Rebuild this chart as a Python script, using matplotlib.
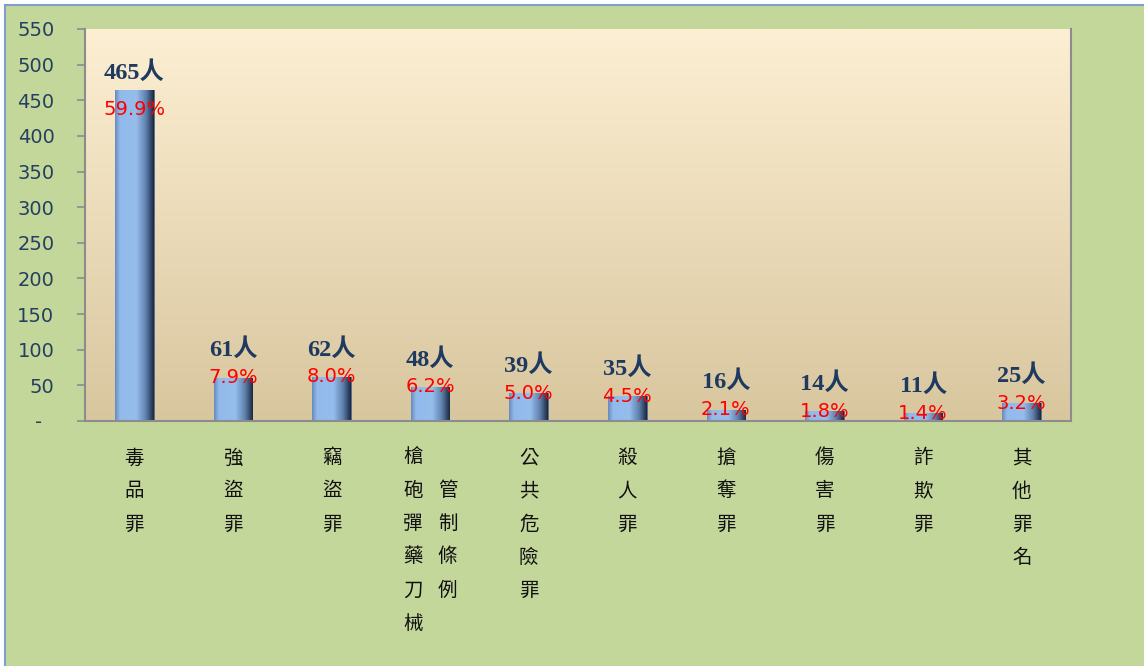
import matplotlib.pyplot as plt
import numpy as np
from matplotlib.patches import Rectangle

plt.rcParams['font.family'] = ['DejaVu Sans', 'Noto Sans CJK TC']

categories = ["毒品罪", "強盜罪", "竊盜罪", "槍砲彈藥刀械管制條例", "公共危險罪",
              "殺人罪", "搶奪罪", "傷害罪", "詐欺罪", "其他罪名"]
counts = [465, 61, 62, 48, 39, 35, 16, 14, 11, 25]
percents = ["59.9%", "7.9%", "8.0%", "6.2%", "5.0%", "4.5%", "2.1%", "1.8%", "1.4%", "3.2%"]
yticks = [0, 50, 100, 150, 200, 250, 300, 350, 400, 450, 500, 550]
ytick_labels = ["-  "] + [str(t) for t in yticks[1:]]

fig = plt.figure(figsize=(11.44, 6.66), dpi=100, facecolor="white")

# green chart area with a thin blue frame
fig.patches.append(Rectangle((5 / 1144, -0.01), 1.0, 1 - 5 / 666 + 0.01,
                             transform=fig.transFigure, facecolor="#C4D79B",
                             edgecolor="#7F9FCB", linewidth=1.5, zorder=-5))

ax = fig.add_axes([85 / 1144, 1 - 421 / 666, 986 / 1144, 392 / 666])
ax.set_zorder(2)

# plot area vertical gradient
top = np.array([253, 239, 211]) / 255
bottom = np.array([216, 198, 158]) / 255
t = np.linspace(0, 1, 256)[:, None]
grad = top * (1 - t[..., None]) + bottom * t[..., None]
ax.imshow(grad, extent=[0, 1, 0, 1], transform=ax.transAxes, aspect="auto",
          zorder=0, interpolation="bilinear")

x = np.arange(len(categories))
bars = ax.bar(x, counts, width=0.39, color="#8DB4E2", edgecolor="#4A6282",
              linewidth=0.6, zorder=2)

# bevel-like horizontal shading on each bar
stops = [0.0, 0.12, 0.55, 0.8, 1.0]
cols = np.array([[105, 140, 190], [145, 185, 235], [150, 190, 236],
                 [95, 128, 175], [28, 42, 66]]) / 255
s = np.linspace(0, 1, 64)
shade = np.stack([np.interp(s, stops, cols[:, k]) for k in range(3)], axis=-1)[None, :, :]
for b in bars:
    im = ax.imshow(shade, extent=[b.get_x(), b.get_x() + b.get_width(), 0, b.get_height()],
                   aspect="auto", zorder=2, interpolation="bilinear")
    im.set_clip_path(b)
ax.set_xlim(-0.5, len(categories) - 0.5)
ax.set_ylim(0, 550)

for i, (v, p) in enumerate(zip(counts, percents)):
    if v > 200:
        c_off, p_off = 12, -14
    else:
        c_off, p_off = 20, 0
    ax.annotate(f"{v}人", (i, v), xytext=(0, c_off), textcoords="offset points",
                ha="center", va="center", fontsize=17.5, fontweight="bold",
                color="#1F3A60", family=["Liberation Serif", "Noto Sans CJK TC"], zorder=4)
    ax.annotate(p, (i, v), xytext=(0, p_off), textcoords="offset points",
                ha="center", va="center", fontsize=14, color="#FF0000", zorder=4)

# vertical category labels, wrapping after 6 characters
per_col = 6
row_gap = 23.8
col_gap = 25
for i, name in enumerate(categories):
    columns = [name[k:k + per_col] for k in range(0, len(name), per_col)]
    n_max = max(len(c) for c in columns)
    for j, col in enumerate(columns):
        dx = (j - (len(columns) - 1) / 2) * col_gap
        start = (n_max - len(col)) / 2
        for r, ch in enumerate(col):
            ax.annotate(ch, (i, 0), xytext=(dx, -26.5 - (start + r) * row_gap),
                        textcoords="offset points", ha="center", va="center",
                        fontsize=14, fontweight="medium", color="#111111",
                        family="Noto Sans CJK TC", annotation_clip=False)

ax.set_xticks([])
ax.set_yticks(yticks)
ax.set_yticklabels(ytick_labels)
ax.tick_params(axis="y", length=6, width=1.2, color="#8C8C8C", labelsize=14,
               labelcolor="#243F60", pad=16)
for side in ["left", "bottom", "right"]:
    ax.spines[side].set_color("#8C8C8C")
    ax.spines[side].set_linewidth(1.5)
ax.spines["top"].set_visible(False)

fig.savefig("out.png", dpi=100, facecolor=fig.get_facecolor())
